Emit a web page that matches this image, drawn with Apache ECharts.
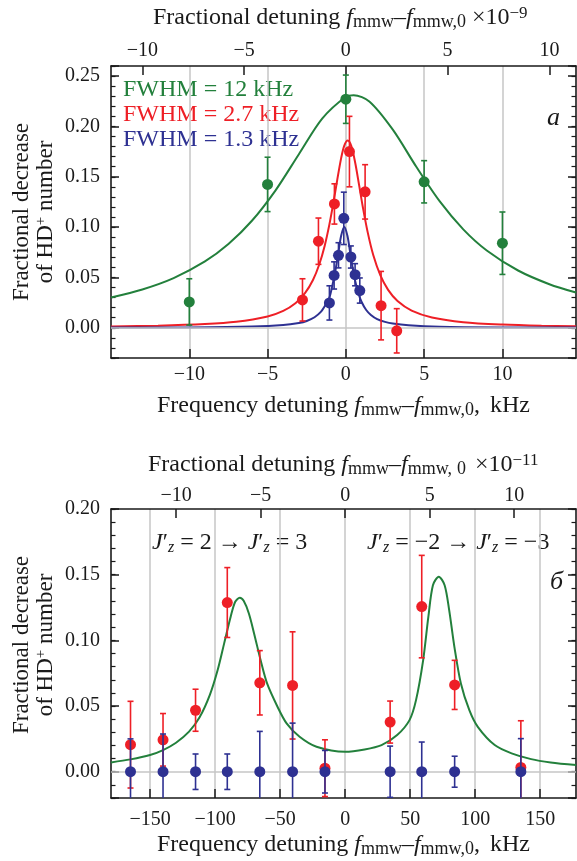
<!DOCTYPE html>
<html><head><meta charset="utf-8">
<script src="https://cdn.jsdelivr.net/npm/echarts@6/dist/echarts.min.js"></script>
<style>html,body{margin:0;padding:0;background:#fff}#c{width:577px;height:861px}</style>
</head><body><div id="c"></div>
<script>
// ---------- Panel a (top) : data ----------
const aGreenX = [-10, -5, 0, 5, 10];
const aGreenY = [0.0257, 0.1424, 0.227, 0.145, 0.084];
const aGreenErr = [0.023, 0.027, 0.024, 0.021, 0.031];
const aRedX = [-2.77, -1.75, -0.73, 0.23, 1.23, 2.25, 3.25];
const aRedY = [0.0277, 0.086, 0.123, 0.175, 0.135, 0.022, -0.003];
const aRedErr = [0.021, 0.023, 0.02, 0.035, 0.027, 0.034, 0.022];
const aBlueX = [-1.05, -0.75, -0.47, -0.13, 0.32, 0.59, 0.89];
const aBlueY = [0.0247, 0.052, 0.072, 0.1087, 0.0703, 0.0527, 0.037];
const aBlueErr = [0.017, 0.0135, 0.0125, 0.026, 0.011, 0.011, 0.0125];

// fitted curves
const aGreenCurveX = [-15, -13, -11, -9, -7.5, -6, -4.5, -3, -1.5, 0, 0.5, 1.5, 3, 4.5, 6, 7.5, 9, 11, 13, 14.7];
const aGreenCurveY = [0.0301, 0.0381, 0.0494, 0.0659, 0.0832, 0.1063, 0.1363, 0.1724, 0.2079, 0.2294, 0.231, 0.2248, 0.1968, 0.1599, 0.1255, 0.0978, 0.0768, 0.0569, 0.0433, 0.0350];
const aRedCurveX = [-15, -12, -9, -7, -5, -4, -3.2, -2.6, -2.1, -1.7, -1.35, -1.05, -0.8, -0.55, -0.3, -0.1, 0.12, 0.35, 0.6, 0.85, 1.1, 1.4, 1.75, 2.2, 2.7, 3.3, 4.2, 5.5, 7.5, 10, 12.5, 14.7];
const aRedCurveY = [0.0014, 0.0021, 0.0037, 0.0060, 0.0113, 0.0168, 0.0247, 0.0346, 0.0475, 0.0629, 0.0816, 0.1027, 0.1239, 0.1469, 0.1685, 0.1809, 0.186, 0.1804, 0.1637, 0.1414, 0.1186, 0.0945, 0.0723, 0.0523, 0.0377, 0.0266, 0.0171, 0.0103, 0.0056, 0.0032, 0.0020, 0.0015];
const aBlueCurveX = [-15, -10, -6, -4, -3, -2.5, -2, -1.6, -1.3, -1.05, -0.85, -0.65, -0.45, -0.3, -0.1, 0.1, 0.25, 0.4, 0.6, 0.8, 1.0, 1.3, 1.6, 2, 2.5, 3, 4, 6, 10, 14.7];
const aBlueCurveY = [0.0002, 0.0004, 0.0012, 0.0027, 0.0048, 0.0068, 0.0105, 0.0158, 0.0227, 0.030, 0.0429, 0.0583, 0.0775, 0.0914, 0.1, 0.0914, 0.0775, 0.0628, 0.0463, 0.0343, 0.0259, 0.0177, 0.0128, 0.0087, 0.0059, 0.0042, 0.0025, 0.0011, 0.0004, 0.0002];

// ---------- Panel б (bottom) ----------
const bX = [-165, -140, -115, -90.6, -65.6, -40.4, -15.5, 34.6, 58.9, 84.2, 135.1];
const bRedY = [0.0206, 0.0243, 0.0468, 0.1288, 0.0677, 0.0657, 0.0027, 0.0378, 0.1257, 0.0661, 0.0033];
const bRedErr = [0.033, 0.02, 0.016, 0.0266, 0.0245, 0.0408, 0.0216, 0.016, 0.039, 0.0187, 0.0355];
const bBlueY = [0, 0, 0, 0, 0, 0, 0, 0, 0, 0, 0];
const bBlueErr = [0.025, 0.0287, 0.0135, 0.0135, 0.0307, 0.037, 0.0162, 0.0195, 0.0226, 0.0118, 0.0252];
const bCurveX = [-180, -165, -150, -140, -130, -120, -112, -104, -98, -93, -88, -84.5, -81, -78, -74, -70, -65, -60, -52, -45, -35, -22, 0, 15, 28, 40, 49.5, 54.5, 60, 64, 67.5, 72, 76.5, 80, 84, 89, 95.5, 102, 115, 128, 143, 158, 177.5];
const bCurveY = [0.0071, 0.0094, 0.0127, 0.0165, 0.0221, 0.0305, 0.0412, 0.0585, 0.0774, 0.0977, 0.118, 0.1294, 0.1324, 0.1301, 0.1205, 0.1053, 0.0850, 0.0672, 0.0495, 0.0368, 0.0266, 0.0190, 0.0152, 0.0170, 0.0203, 0.0279, 0.0393, 0.0545, 0.085, 0.118, 0.142, 0.1484, 0.142, 0.123, 0.0951, 0.0672, 0.0469, 0.0342, 0.0203, 0.014, 0.0096, 0.0071, 0.0051];

// axis ranges / tick labels
const aXRange = [-15, 14.7], aYRange = [-0.03, 0.26];
const bXRange = [-180, 177.5], bYRange = [-0.02, 0.20];
const aFracScale = 1.3;   // kHz per 1e-9
const bFracScale = 13;    // kHz per 1e-11

const FONT = '"Liberation Serif","Times New Roman",serif';
const INK = '#1a1a1a';
const GREEN = '#23803c', RED = '#ee1f26', BLUE = '#2e3192', GRID = '#c6c6c6';

const zip = (xs, ys) => xs.map((x, i) => [x, ys[i]]);
const zip3 = (xs, ys, es) => xs.map((x, i) => [x, ys[i], es[i]]);
const isMult = (v, s) => Math.abs(v / s - Math.round(v / s)) < 1e-6;
const fmtX = s => v => isMult(v, s) ? String(Math.round(v)).replace('-', '\u2212') : '';
const fmtY = v => isMult(v, 0.05) ? v.toFixed(2) : '';

const axLine = { show: true, onZero: false, lineStyle: { color: INK, width: 1.5 } };
function xAxis(grid, pos, range, split, step, margin, showSplit) {
  return {
    type: 'value', gridIndex: grid, position: pos, min: range[0], max: range[1], splitNumber: split,
    axisLine: axLine,
    axisTick: { show: true, inside: true, length: 9, lineStyle: { color: INK, width: 1.5 } },
    axisLabel: { show: true, margin: margin, fontFamily: FONT, fontSize: 20, color: INK, showMinLabel: false, showMaxLabel: false, formatter: fmtX(step) },
    splitLine: { show: showSplit, lineStyle: { color: GRID, width: 1.5 } }
  };
}
function yMajor(grid, pos, range, labels) {
  return {
    type: 'value', gridIndex: grid, position: pos, min: range[0], max: range[1], splitNumber: 5,
    axisLine: axLine,
    axisTick: { show: true, inside: true, length: 8, lineStyle: { color: INK, width: 1.5 } },
    axisLabel: { show: labels, margin: 11, fontFamily: FONT, fontSize: 20, color: INK, formatter: fmtY },
    splitLine: { show: false }
  };
}
function yMinor(grid, pos, range) {
  return {
    type: 'value', gridIndex: grid, position: pos, min: range[0], max: range[1], interval: 0.01,
    axisLine: { show: false, onZero: false },
    axisTick: { show: true, inside: true, length: 4.5, lineStyle: { color: INK, width: 1.2 } },
    axisLabel: { show: false }, splitLine: { show: false }
  };
}

function errBars(color) {
  return function (params, api) {
    const x = api.value(0), y = api.value(1), e = api.value(2);
    const t = api.coord([x, y + e]), b = api.coord([x, y - e]);
    const hw = 3, st = { stroke: color, lineWidth: 1.6 };
    return { type: 'group', children: [
      { type: 'line', shape: { x1: t[0], y1: t[1], x2: b[0], y2: b[1] }, style: st },
      { type: 'line', shape: { x1: t[0] - hw, y1: t[1], x2: t[0] + hw, y2: t[1] }, style: st },
      { type: 'line', shape: { x1: b[0] - hw, y1: b[1], x2: b[0] + hw, y2: b[1] }, style: st }
    ]};
  };
}
function curve(xi, yi, xs, ys, color, z, zeroLine) {
  const s = { type: 'line', xAxisIndex: xi, yAxisIndex: yi, data: zip(xs, ys), showSymbol: false, smooth: 0.3,
    lineStyle: { color: color, width: 2 }, itemStyle: { color: color }, z: z, silent: true, clip: true };
  if (zeroLine) s.markLine = { silent: true, symbol: 'none', label: { show: false },
    lineStyle: { color: GRID, width: 1.5, type: 'solid' }, data: [{ yAxis: 0 }] };
  return s;
}
function bars(xi, yi, xs, ys, es, color, z) {
  return { type: 'custom', xAxisIndex: xi, yAxisIndex: yi, data: zip3(xs, ys, es), renderItem: errBars(color),
    encode: { x: 0, y: 1 }, z: z, clip: true, silent: true };
}
function dots(xi, yi, xs, ys, color, z) {
  return { type: 'scatter', xAxisIndex: xi, yAxisIndex: yi, data: zip(xs, ys), symbolSize: 11,
    itemStyle: { color: color, opacity: 1 }, z: z, silent: true };
}

// rich-text styles
function R(size, extra) { return Object.assign({ fontFamily: FONT, fontSize: size, fill: INK, lineHeight: 26, verticalAlign: 'middle' }, extra || {}); }
const richBase = {
  T: R(24), Ti: R(24, { fontStyle: 'italic' }),
  Ts: R(18, { lineHeight: 16, verticalAlign: 'bottom' }),
  Ts0: R(18, { lineHeight: 16, verticalAlign: 'bottom', padding: [0, 0, 0, 5] }),
  Tp: R(17, { lineHeight: 15, verticalAlign: 'top' }),
  Tx: R(24, { padding: [0, 0, 0, 9] }),
  Tk: R(24, { padding: [0, 0, 0, 4] }),
  Y: R(23, { lineHeight: 24 }), Yp: R(15, { lineHeight: 12, verticalAlign: 'top' }),
  J: R(24, { fontStyle: 'italic' }), Jn: R(24),
  z: R(16, { fontStyle: 'italic', lineHeight: 12, verticalAlign: 'bottom' })
};
const fPart = '{Ti|f}{Ts|mmw}{T|\u2013}{Ti|f}{Ts|mmw,0}';
const fPartWide = '{Ti|f}{Ts|mmw}{T|\u2013}{Ti|f}{Ts|mmw,}{Ts0|0}';
function txt(x, y, text, opts) {
  return Object.assign({ type: 'text', x: x, y: y, silent: true,
    style: { text: text, rich: richBase, font: '24px ' + FONT, fill: INK,
      align: 'left', textAlign: 'left', verticalAlign: 'middle', textVerticalAlign: 'middle' } }, opts || {});
}
function plain(x, y, text, color, size, italic) {
  return { type: 'text', x: x, y: y, silent: true,
    style: { text: text, fill: color, font: (italic ? 'italic ' : '') + size + 'px ' + FONT,
      align: 'left', textAlign: 'left', verticalAlign: 'middle', textVerticalAlign: 'middle' } };
}
function yNameEl(x, y) {
  const t = '{Y|Fractional decrease}\n{Y|of HD}{Yp|+}{Y| number}';
  return { type: 'text', x: x, y: y, rotation: Math.PI / 2, silent: true,
    style: { text: t, rich: richBase, font: '23px ' + FONT, fill: INK, align: 'center', textAlign: 'center', verticalAlign: 'middle', textVerticalAlign: 'middle' } };
}
const jLeft = '{J|J}{Jn|\u2032}{z|z}{Jn| = 2 \u2192 }{J|J}{Jn|\u2032}{z|z}{Jn| = 3}';
const jRight = '{J|J}{Jn|\u2032}{z|z}{Jn| = \u22122 \u2192 }{J|J}{Jn|\u2032}{z|z}{Jn| = \u22123}';

const option = {
  animation: false,
  backgroundColor: '#ffffff',
  grid: [
    { left: 111, top: 66, width: 465, height: 292, containLabel: false },
    { left: 111, top: 509, width: 465, height: 289, containLabel: false }
  ],
  xAxis: [
    xAxis(0, 'bottom', aXRange, 5, 5, 7, true),
    xAxis(0, 'top', [aXRange[0] / aFracScale, aXRange[1] / aFracScale], 5, 5, 5, false),
    xAxis(1, 'bottom', bXRange, 7, 50, 12, true),
    xAxis(1, 'top', [bXRange[0] / bFracScale, bXRange[1] / bFracScale], 5, 5, 3, false)
  ],
  yAxis: [
    yMajor(0, 'left', aYRange, true), yMinor(0, 'left', aYRange),
    yMajor(0, 'right', aYRange, false), yMinor(0, 'right', aYRange),
    yMajor(1, 'left', bYRange, true), yMinor(1, 'left', bYRange),
    yMajor(1, 'right', bYRange, false), yMinor(1, 'right', bYRange)
  ],
  series: [
    curve(0, 0, aGreenCurveX, aGreenCurveY, GREEN, 2, true),
    curve(0, 0, aRedCurveX, aRedCurveY, RED, 3),
    curve(0, 0, aBlueCurveX, aBlueCurveY, BLUE, 4),
    bars(0, 0, aGreenX, aGreenY, aGreenErr, GREEN, 5), dots(0, 0, aGreenX, aGreenY, GREEN, 6),
    bars(0, 0, aRedX, aRedY, aRedErr, RED, 7), dots(0, 0, aRedX, aRedY, RED, 8),
    bars(0, 0, aBlueX, aBlueY, aBlueErr, BLUE, 9), dots(0, 0, aBlueX, aBlueY, BLUE, 10),

    curve(2, 4, bCurveX, bCurveY, GREEN, 2, true),
    bars(2, 4, bX, bRedY, bRedErr, RED, 5), dots(2, 4, bX, bRedY, RED, 6),
    bars(2, 4, bX, bBlueY, bBlueErr, BLUE, 7), dots(2, 4, bX, bBlueY, BLUE, 8)
  ],
  graphic: [
    txt(153, 18, '{T|Fractional detuning }' + fPart + '{T| \u00d710}{Tp|\u22129}'),
    txt(157, 406, '{T|Frequency detuning }' + fPart + '{T|,}{Tk| kHz}'),
    txt(148, 465, '{T|Fractional detuning }' + fPartWide + '{Tx|\u00d710}{Tp|\u221211}'),
    txt(157, 845, '{T|Frequency detuning }' + fPart + '{T|,}{Tk| kHz}'),
    yNameEl(34, 212),
    yNameEl(34, 645),
    plain(123, 90, 'FWHM = 12 kHz', GREEN, 24),
    plain(123, 115, 'FWHM = 2.7 kHz', RED, 24),
    plain(123, 140, 'FWHM = 1.3 kHz', BLUE, 24),
    plain(547, 118, 'a', INK, 26, true),
    plain(550, 582, '\u0431', INK, 26, true),
    txt(152, 543, jLeft),
    txt(367, 543, jRight)
  ]
};
const chart = echarts.init(document.getElementById('c'), null, { renderer: 'canvas', width: 577, height: 861 });
chart.setOption(option);
</script>
</body></html>
